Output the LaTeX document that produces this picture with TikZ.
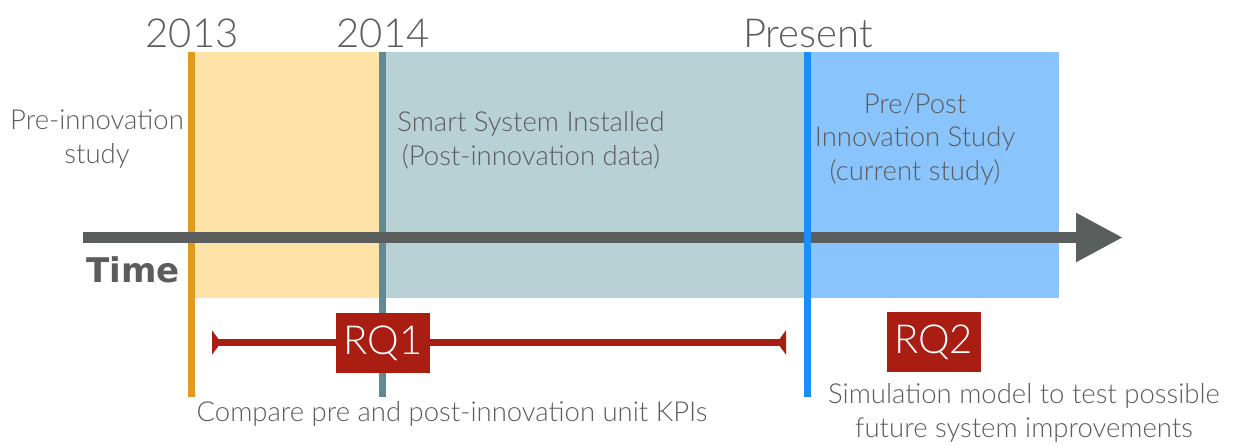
\documentclass[tikz,border=0pt]{standalone}
\usepackage{fontspec}
\setmainfont{Lato}[UprightFont=* Light, BoldFont=*]
\newfontfamily\timefont{DejaVu Sans}
\usetikzlibrary{arrows.meta,positioning}

\definecolor{preband}{HTML}{FDE3A8}
\definecolor{postband}{HTML}{B8D1D5}
\definecolor{nowband}{HTML}{89C5FC}
\definecolor{markpre}{HTML}{E09B1E}
\definecolor{markpost}{HTML}{5E8B94}
\definecolor{marknow}{HTML}{1A8FFB}
\definecolor{axisgrey}{HTML}{5A5E5D}
\definecolor{rqred}{HTML}{A91D12}
\definecolor{labelgrey}{HTML}{5C5C5C}

\begin{document}
\begin{tikzpicture}[x=1pt, y=-1pt,
    year/.style={text=labelgrey, anchor=base, inner sep=0pt, font=\fontsize{40}{44}\selectfont},
    note/.style={text=labelgrey, align=center, anchor=base, inner sep=0pt, font=\fontsize{27.5}{33.5}\selectfont},
    rqbox/.style={fill=rqred, text=white, minimum width=94pt, minimum height=60pt, inner sep=0pt, font=\fontsize{40}{44}\selectfont},
    marker/.style={line width=7pt},
    rqtip/.tip={Triangle[reversed, length=9pt, width=24pt]}]
    \useasboundingbox (0,0) rectangle (1238,444);

    % Time bands
    \fill[preband] (191,52) rectangle (382,298);
    \fill[postband] (382,52) rectangle (807,298);
    \fill[nowband] (807,52) rectangle (1059,298);

    % Milestone markers
    \coordinate (pretop) at (191.5,52);
    \coordinate (prebot) at (191.5,397);
    \coordinate (posttop) at (382.5,52);
    \coordinate (postbot) at (382.5,397);
    \coordinate (nowtop) at (807,52);
    \coordinate (nowbot) at (807,397);
    \draw[marker, markpre] (pretop) -- (prebot);
    \draw[marker, markpost] (posttop) -- (postbot);

    % Time axis
    \coordinate (tstart) at (83,237.5);
    \coordinate (tend) at (1123,237.5);
    \draw[line width=11.5pt, axisgrey, -{Triangle[length=47pt, width=46pt]}] (tstart) -- (tend);
    \draw[marker, marknow] (nowtop) -- (nowbot);
    \node[text=labelgrey, anchor=base west, inner sep=0pt, font=\timefont\bfseries\fontsize{34}{40}\selectfont] (time) at (86,282) {Time};

    % Milestone labels
    \node[year] (y2013) at (192,48) {2013};
    \node[year] (y2014) at (383,48) {2014};
    \node[year] (present) at (808,48) {Present};

    % Band texts (base = last line)
    \node[note] (prestudy) at (97,163) {Pre-innovation\\study};
    \node[note] (smart) at (531,165) {Smart System Installed\\(Post-innovation data)};
    \node[note] (current) at (915,180) {Pre/Post\\Innovation Study\\(current study)};

    % Research questions
    \coordinate (rqa) at (212,342.5);
    \coordinate (rqb) at (786,342.5);
    \draw[line width=7pt, rqred, rqtip-rqtip] (rqa) -- (rqb);
    \node[rqbox] (rq1) at (383,343) {RQ1};
    \node[rqbox] (rq2) at (933.5,342) {RQ2};

    \node[note] (compare) at (452,421) {Compare pre and post-innovation unit KPIs};
    \node[note] (simulate) at (1024,437) {Simulation model to test possible\\future system improvements};
\end{tikzpicture}
\end{document}
